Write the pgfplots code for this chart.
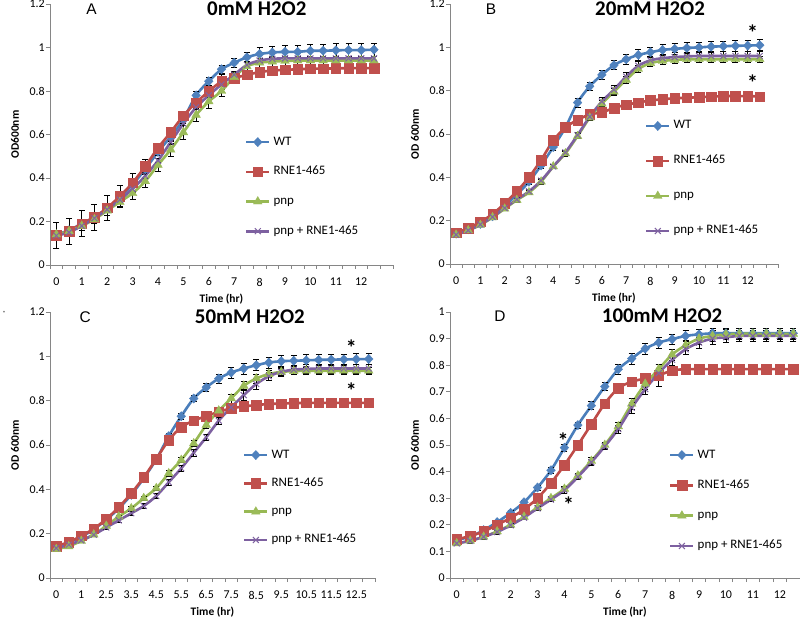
\documentclass[border=0pt]{standalone}
\usepackage{fontspec}
\setmainfont{Carlito}
\newfontfamily\letterfont{Liberation Sans}
\usepackage{pgfplots}
\usepackage{pgfplotstable}
\pgfplotsset{compat=1.18}

\definecolor{axisgray}{HTML}{868686}
\definecolor{wtl}{HTML}{4A7EBB}
\definecolor{wtm}{HTML}{4F81BD}
\definecolor{rnel}{HTML}{BE4B48}
\definecolor{rnem}{HTML}{C0504D}
\definecolor{pnpl}{HTML}{98B954}
\definecolor{pnpm}{HTML}{9BBB59}
\definecolor{dbll}{HTML}{7D60A0}
\definecolor{dblm}{HTML}{8064A2}

% columns: index, mean and error for WT, RNE1-465, pnp, pnp + RNE1-465
\pgfplotstableread{
i wt wte rne rnee pnp pnpe dbl dble
0 0.140 0.015 0.138 0.060 0.140 0.020 0.135 0.010
1 0.160 0.015 0.156 0.060 0.155 0.020 0.150 0.010
2 0.190 0.015 0.190 0.060 0.180 0.020 0.180 0.010
3 0.220 0.015 0.220 0.060 0.210 0.020 0.215 0.010
4 0.260 0.015 0.263 0.058 0.250 0.020 0.255 0.010
5 0.310 0.015 0.316 0.052 0.290 0.020 0.300 0.010
6 0.370 0.015 0.378 0.042 0.330 0.030 0.350 0.010
7 0.440 0.015 0.454 0.030 0.385 0.030 0.410 0.010
8 0.520 0.015 0.538 0.020 0.460 0.030 0.480 0.010
9 0.590 0.020 0.610 0.020 0.530 0.030 0.565 0.010
10 0.670 0.020 0.686 0.020 0.610 0.030 0.650 0.010
11 0.780 0.020 0.747 0.020 0.690 0.030 0.725 0.010
12 0.845 0.020 0.798 0.020 0.752 0.030 0.780 0.010
13 0.900 0.020 0.844 0.035 0.800 0.025 0.830 0.010
14 0.930 0.020 0.860 0.025 0.864 0.025 0.875 0.010
15 0.955 0.025 0.874 0.020 0.913 0.025 0.920 0.010
16 0.970 0.030 0.887 0.020 0.930 0.020 0.940 0.010
17 0.977 0.030 0.894 0.020 0.935 0.020 0.948 0.010
18 0.980 0.030 0.897 0.020 0.938 0.020 0.950 0.010
19 0.980 0.030 0.900 0.020 0.940 0.020 0.950 0.010
20 0.985 0.030 0.902 0.020 0.940 0.020 0.950 0.010
21 0.985 0.030 0.903 0.020 0.940 0.020 0.950 0.010
22 0.987 0.030 0.904 0.020 0.940 0.020 0.950 0.010
23 0.988 0.030 0.905 0.020 0.940 0.020 0.950 0.010
24 0.988 0.030 0.905 0.020 0.940 0.020 0.950 0.010
25 0.990 0.030 0.905 0.020 0.940 0.020 0.950 0.010
}\tA

\pgfplotstableread{
i wt wte rne rnee pnp pnpe dbl dble
0 0.140 0.010 0.145 0.008 0.135 0.008 0.135 0.008
1 0.160 0.010 0.165 0.008 0.155 0.008 0.155 0.008
2 0.185 0.010 0.195 0.008 0.180 0.008 0.182 0.008
3 0.220 0.010 0.230 0.008 0.215 0.008 0.217 0.008
4 0.270 0.010 0.280 0.010 0.255 0.008 0.258 0.008
5 0.320 0.010 0.335 0.010 0.295 0.008 0.298 0.008
6 0.380 0.012 0.400 0.010 0.330 0.010 0.335 0.010
7 0.455 0.012 0.480 0.010 0.380 0.010 0.385 0.010
8 0.540 0.015 0.570 0.010 0.450 0.010 0.450 0.010
9 0.630 0.015 0.630 0.010 0.510 0.012 0.515 0.012
10 0.745 0.020 0.665 0.010 0.590 0.012 0.595 0.012
11 0.820 0.020 0.690 0.010 0.675 0.012 0.680 0.015
12 0.873 0.020 0.700 0.010 0.740 0.015 0.750 0.020
13 0.918 0.020 0.720 0.010 0.795 0.015 0.805 0.020
14 0.945 0.025 0.735 0.010 0.850 0.015 0.865 0.020
15 0.965 0.025 0.745 0.010 0.900 0.015 0.915 0.020
16 0.977 0.025 0.755 0.010 0.927 0.015 0.940 0.020
17 0.988 0.025 0.760 0.010 0.937 0.015 0.950 0.020
18 0.993 0.025 0.765 0.010 0.942 0.015 0.955 0.020
19 0.997 0.025 0.767 0.010 0.945 0.015 0.958 0.020
20 1.000 0.025 0.770 0.010 0.945 0.015 0.960 0.020
21 1.003 0.025 0.772 0.010 0.945 0.015 0.960 0.020
22 1.005 0.025 0.775 0.010 0.945 0.015 0.960 0.020
23 1.007 0.025 0.775 0.010 0.945 0.015 0.960 0.020
24 1.008 0.025 0.775 0.010 0.945 0.015 0.960 0.020
25 1.010 0.025 0.773 0.010 0.945 0.015 0.960 0.020
}\tB

\pgfplotstableread{
i wt wte rne rnee pnp pnpe dbl dble
0 0.140 0.010 0.144 0.008 0.130 0.008 0.135 0.008
1 0.160 0.010 0.162 0.008 0.143 0.008 0.150 0.008
2 0.185 0.010 0.190 0.008 0.167 0.008 0.170 0.008
3 0.220 0.010 0.222 0.008 0.196 0.008 0.195 0.008
4 0.262 0.010 0.266 0.008 0.235 0.008 0.228 0.008
5 0.314 0.010 0.319 0.008 0.277 0.008 0.260 0.008
6 0.375 0.010 0.382 0.008 0.314 0.010 0.292 0.010
7 0.450 0.010 0.454 0.008 0.360 0.010 0.325 0.010
8 0.535 0.012 0.537 0.008 0.405 0.010 0.370 0.010
9 0.640 0.015 0.622 0.008 0.472 0.012 0.432 0.012
10 0.730 0.015 0.680 0.008 0.532 0.012 0.495 0.012
11 0.810 0.015 0.710 0.008 0.607 0.015 0.565 0.015
12 0.860 0.020 0.730 0.008 0.690 0.015 0.635 0.015
13 0.900 0.020 0.750 0.008 0.755 0.015 0.710 0.015
14 0.927 0.025 0.765 0.008 0.810 0.020 0.770 0.020
15 0.945 0.025 0.774 0.008 0.867 0.020 0.825 0.025
16 0.960 0.025 0.780 0.008 0.900 0.020 0.875 0.025
17 0.972 0.025 0.785 0.008 0.920 0.015 0.910 0.020
18 0.978 0.025 0.787 0.008 0.930 0.015 0.930 0.020
19 0.980 0.025 0.789 0.008 0.933 0.015 0.940 0.020
20 0.982 0.025 0.790 0.008 0.935 0.015 0.943 0.020
21 0.984 0.025 0.790 0.008 0.935 0.015 0.945 0.020
22 0.985 0.025 0.790 0.008 0.935 0.015 0.945 0.020
23 0.986 0.025 0.790 0.008 0.935 0.015 0.945 0.020
24 0.987 0.025 0.790 0.008 0.935 0.015 0.945 0.020
25 0.988 0.025 0.790 0.008 0.935 0.015 0.945 0.020
}\tC

\pgfplotstableread{
i wt wte rne rnee pnp pnpe dbl dble
0 0.144 0.008 0.145 0.008 0.130 0.008 0.130 0.008
1 0.155 0.008 0.158 0.008 0.140 0.008 0.140 0.008
2 0.180 0.008 0.175 0.008 0.155 0.008 0.155 0.008
3 0.210 0.008 0.200 0.008 0.175 0.008 0.173 0.008
4 0.245 0.008 0.226 0.008 0.200 0.008 0.198 0.008
5 0.285 0.008 0.258 0.008 0.230 0.008 0.227 0.008
6 0.340 0.010 0.300 0.008 0.265 0.008 0.262 0.008
7 0.405 0.010 0.357 0.008 0.300 0.008 0.295 0.008
8 0.490 0.012 0.425 0.008 0.335 0.010 0.330 0.010
9 0.575 0.012 0.500 0.008 0.385 0.010 0.380 0.010
10 0.648 0.015 0.578 0.008 0.440 0.012 0.435 0.012
11 0.720 0.015 0.656 0.008 0.500 0.012 0.495 0.012
12 0.785 0.020 0.713 0.008 0.570 0.015 0.560 0.015
13 0.825 0.020 0.738 0.010 0.655 0.020 0.640 0.020
14 0.862 0.020 0.750 0.010 0.730 0.020 0.710 0.020
15 0.885 0.020 0.762 0.040 0.785 0.020 0.770 0.020
16 0.898 0.020 0.780 0.015 0.840 0.020 0.820 0.020
17 0.910 0.020 0.785 0.012 0.875 0.020 0.860 0.020
18 0.916 0.020 0.785 0.012 0.900 0.020 0.885 0.020
19 0.920 0.020 0.785 0.012 0.910 0.020 0.900 0.020
20 0.920 0.020 0.785 0.012 0.916 0.020 0.905 0.020
21 0.920 0.020 0.785 0.012 0.918 0.020 0.910 0.020
22 0.920 0.020 0.785 0.012 0.918 0.020 0.910 0.020
23 0.920 0.020 0.785 0.012 0.918 0.020 0.910 0.020
24 0.920 0.020 0.785 0.012 0.918 0.020 0.910 0.020
25 0.920 0.020 0.785 0.012 0.918 0.020 0.910 0.020
}\tD

\tikzset{starnote/.style={font=\bfseries\fontsize{22}{22}\selectfont, anchor=center, inner sep=0pt}}

\pgfplotsset{
  legend image code/.code={\draw[mark repeat=2,mark phase=2,#1]
    plot coordinates {(0bp,0bp)(11.5bp,0bp)(23bp,0bp)};},
  panel/.style={
    scale only axis,
    clip=false,
    axis x line*=bottom, axis y line*=left,
    axis line style={draw=axisgray, line width=0.6bp},
    tick style={draw=axisgray, line width=0.6bp},
    tick align=outside,
    major tick length=0pt, minor tick length=4bp,
    xtick={0,2,...,24},
    minor xtick={-0.5,0.5,...,26.5},
    xmin=-0.5, ymin=0,
    tick label style={font=\fontsize{12}{13}\selectfont},
    /pgf/number format/assume math mode=true,
    xticklabel style={anchor=center, yshift=-17bp},
    yticklabel style={anchor=east, inner sep=0pt, xshift=-5bp},
    label style={font=\bfseries\fontsize{11.5}{12}\selectfont},
    xlabel={Time (hr)},
    xlabel style={at={(axis description cs:0.5,0)}, anchor=center, yshift=-34bp},
    title style={font=\bfseries\fontsize{21}{24}\selectfont, anchor=center},
    legend cell align=left,
    legend style={draw=none, fill=none, inner sep=0pt, outer sep=0pt,
      anchor=north west, font=\fontsize{13}{14}\selectfont,
      nodes={inner sep=0pt, text height=8bp, text depth=2bp}, column sep=3bp},
  },
  ebars/.style={error bars/.cd, y dir=both, y explicit,
    error bar style={black, line width=0.6bp},
    error mark options={black, rotate=90, mark size=3bp, line width=0.6bp}},
  swt/.style={color=wtl, line width=2.6bp, smooth, tension=0.5, mark=diamond*,
    mark size=4.6bp, mark options={solid, fill=wtm, draw=wtm, line width=0.4bp, xscale=1.25}},
  srne/.style={color=rnel, line width=2.6bp, smooth, tension=0.5, mark=square*,
    mark size=4.8bp, mark options={solid, fill=rnem, draw=rnem, line width=0.4bp}},
  spnp/.style={color=pnpl, line width=2.6bp, smooth, tension=0.5, mark=triangle*,
    mark size=5bp, mark options={solid, fill=pnpm, draw=pnpm, line width=0.4bp}},
  sdbl/.style={color=dbll, line width=2.6bp, smooth, tension=0.5, mark=x,
    mark size=4.2bp, mark options={solid, draw=dblm, line width=1bp}},
}

\begin{document}
\begin{tikzpicture}
\useasboundingbox (0,0) rectangle (800bp,618bp);

% A
\begin{axis}[panel, at={(50bp,353bp)}, anchor=south west,
  width=343bp, height=261bp, xmax=26.5, ymax=1.2,
  ytick={0,0.2,0.4,0.6,0.8,1,1.2}, minor ytick={0,0.2,0.4,0.6,0.8,1,1.2},
  xticklabels={0,1,2,3,4,5,6,7,8,9,10,11,12},
  ylabel={OD600nm},
  ylabel style={at={(axis description cs:-0.102,0.5)}, anchor=center},
  title={0mM H2O2},
  title style={at={(axis description cs:0.603,0.958)}},
  legend style={at={(axis description cs:0.5685,0.490)}, row sep=19.7bp}]
\addplot[swt, ebars] table[x=i, y=wt, y error=wte] {\tA};
\addplot[srne, ebars] table[x=i, y=rne, y error=rnee] {\tA};
\addplot[spnp, ebars] table[x=i, y=pnp, y error=pnpe] {\tA};
\addplot[sdbl, ebars] table[x=i, y=dbl, y error=dble] {\tA};
\legend{WT,RNE1-465,pnp,pnp + RNE1-465}
\end{axis}

% B
\begin{axis}[panel, at={(450bp,354bp)}, anchor=south west,
  width=328bp, height=260bp, xmax=26.5, ymax=1.2,
  ytick={0,0.2,0.4,0.6,0.8,1,1.2}, minor ytick={0,0.2,0.4,0.6,0.8,1,1.2},
  xticklabels={0,1,2,3,4,5,6,7,8,9,10,11,12},
  ylabel={OD 600nm},
  ylabel style={at={(axis description cs:-0.107,0.5)}, anchor=center},
  title={20mM H2O2},
  title style={at={(axis description cs:0.61,0.958)}},
  legend style={at={(axis description cs:0.5945,0.55)}, row sep=25bp}]
\addplot[swt, ebars] table[x=i, y=wt, y error=wte] {\tB};
\addplot[srne, ebars] table[x=i, y=rne, y error=rnee] {\tB};
\addplot[spnp, ebars] table[x=i, y=pnp, y error=pnpe] {\tB};
\addplot[sdbl, ebars] table[x=i, y=dbl, y error=dble] {\tB};
\legend{WT,RNE1-465,pnp,pnp + RNE1-465}
\node[starnote] at (axis cs:24.4,1.066) {*};
\node[starnote] at (axis cs:24.4,0.835) {*};
\end{axis}

% C
\begin{axis}[panel, at={(50bp,40bp)}, anchor=south west,
  width=325bp, height=266bp, xmax=25.5, ymax=1.2,
  ytick={0,0.2,0.4,0.6,0.8,1,1.2}, minor ytick={0,0.2,0.4,0.6,0.8,1,1.2},
  xticklabels={0,1,2.5,3.5,4.5,5.5,6.5,7.5,8.5,9.5,10.5,11.5,12.5},
  ylabel={OD 600nm},
  ylabel style={at={(axis description cs:-0.108,0.5)}, anchor=center},
  title={50mM H2O2},
  title style={at={(axis description cs:0.615,0.959)}},
  legend style={at={(axis description cs:0.594,0.481)}, row sep=18.3bp}]
\addplot[swt, ebars] table[x=i, y=wt, y error=wte] {\tC};
\addplot[srne, ebars] table[x=i, y=rne, y error=rnee] {\tC};
\addplot[spnp, ebars] table[x=i, y=pnp, y error=pnpe] {\tC};
\addplot[sdbl, ebars] table[x=i, y=dbl, y error=dble] {\tC};
\legend{WT,RNE1-465,pnp,pnp + RNE1-465}
\node[starnote] at (axis cs:23.6,1.038) {*};
\node[starnote] at (axis cs:23.6,0.844) {*};
\end{axis}

% D
\begin{axis}[panel, at={(450bp,40bp)}, anchor=south west,
  width=350bp, height=266bp, xmax=25.5, ymax=1,
  ytick={0,0.1,0.2,0.3,0.4,0.5,0.6,0.7,0.8,0.9,1},
  minor ytick={0,0.1,0.2,0.3,0.4,0.5,0.6,0.7,0.8,0.9,1},
  xticklabels={0,1,2,3,4,5,6,7,8,9,10,11,12},
  ylabel={OD 600nm},
  ylabel style={at={(axis description cs:-0.1,0.5)}, anchor=center},
  title={100mM H2O2},
  title style={at={(axis description cs:0.606,0.962)}},
  legend style={at={(axis description cs:0.626,0.481)}, row sep=20.3bp}]
\addplot[swt, ebars] table[x=i, y=wt, y error=wte] {\tD};
\addplot[srne, ebars] table[x=i, y=rne, y error=rnee] {\tD};
\addplot[spnp, ebars] table[x=i, y=pnp, y error=pnpe] {\tD};
\addplot[sdbl, ebars] table[x=i, y=dbl, y error=dble] {\tD};
\legend{WT,RNE1-465,pnp,pnp + RNE1-465}
\node[starnote] at (axis cs:7.9,0.515) {*};
\node[starnote] at (axis cs:8.3,0.274) {*};
\end{axis}

% panel letters
\node[font=\letterfont\fontsize{15.5}{16}\selectfont] at (91.5bp,608.5bp) {A};
\node[font=\letterfont\fontsize{15.5}{16}\selectfont] at (491bp,608.5bp) {B};
\node[font=\letterfont\fontsize{15.5}{16}\selectfont] at (85.3bp,300.5bp) {C};
\node[font=\letterfont\fontsize{15.5}{16}\selectfont] at (500bp,302bp) {D};
\node[font=\fontsize{6}{6}\selectfont] at (4bp,305bp) {*};
\end{tikzpicture}
\end{document}
